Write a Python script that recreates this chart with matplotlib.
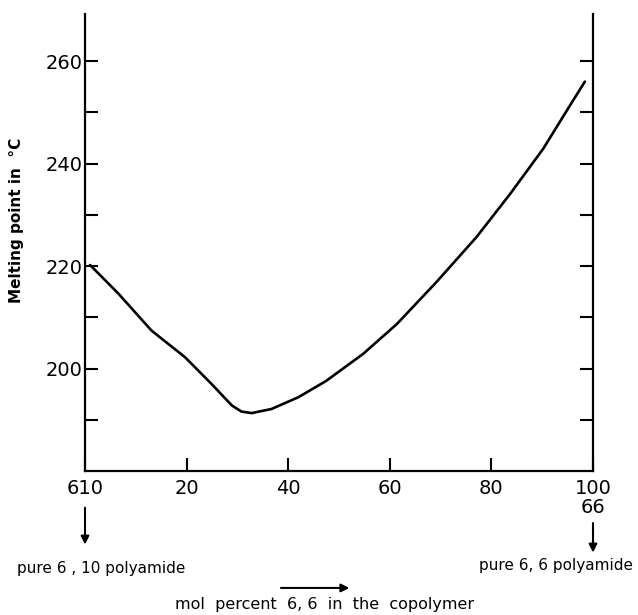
import numpy as np
import matplotlib
matplotlib.use('Agg')
from matplotlib import pyplot as plt

# melting point of 6,10 / 6,6 copolyamides
mol_pct = [1.0, 6.6, 13.1, 19.7, 24.9, 28.9, 30.8, 32.8, 36.7, 42.0, 47.5,
           54.8, 61.4, 69.2, 77.1, 83.7, 90.2, 95.5, 98.4]
melt_pt = [220.2, 214.6, 207.4, 202.2, 197.0, 192.8, 191.6, 191.3, 192.1, 194.4,
           197.6, 202.9, 208.7, 216.9, 225.7, 234.1, 242.9, 251.4, 256.0]

x_ticks = [0, 20, 40, 60, 80, 100]
x_labels = ['610', '20', '40', '60', '80', '100\n66']
y_major = [200, 220, 240, 260]
y_minor = [190, 210, 230, 250]

plt.rcParams['font.family'] = ['DejaVu Sans']

fig = plt.figure(figsize=(6.38, 6.15), dpi=100)
ax = fig.add_axes([85 / 638, 144 / 615, 508 / 638, 457 / 615])

ax.plot(mol_pct, melt_pt, color='black', lw=1.9, solid_capstyle='round',
        solid_joinstyle='round')

ax.set_xlim(0, 100)
ax.set_ylim(180, 269.2)

ax.spines['top'].set_visible(False)
for s in ['left', 'right', 'bottom']:
    ax.spines[s].set_linewidth(1.6)

ax.set_xticks(x_ticks)
ax.set_xticklabels(x_labels, fontsize=14, linespacing=0.95)
ax.set_yticks(y_major)
ax.set_yticks(y_minor, minor=True)
ax.set_yticklabels([str(v) for v in y_major], fontsize=14)

ax.tick_params(axis='both', which='both', direction='in', length=9.5,
               width=1.5, color='black')
ax.tick_params(axis='y', which='both', right=True, labelright=False, pad=2)
ax.tick_params(axis='x', pad=6)

ax.set_ylabel('Melting point in  \u00b0C', fontsize=11, fontweight='bold')
ax.yaxis.set_label_coords(-0.12, 0.549)

# arrows and notes under the axis
arrow = dict(arrowstyle='-|>', color='black', lw=1.5, mutation_scale=12)
ax.annotate('', xy=(0, 0.110), xytext=(0, 0.179),
            xycoords=('data', 'figure fraction'), arrowprops=arrow)
ax.annotate('', xy=(100, 0.097), xytext=(100, 0.154),
            xycoords=('data', 'figure fraction'), arrowprops=arrow)
fig.text(0.027, 0.076, 'pure 6 , 10 polyamide', fontsize=11, ha='left', va='center')
fig.text(0.992, 0.081, 'pure 6, 6 polyamide', fontsize=11, ha='right', va='center')
fig.text(0.508, 0.017, 'mol  percent  6, 6  in  the  copolymer', fontsize=11.5,
         ha='center', va='center')
fig.add_artist(matplotlib.patches.FancyArrowPatch(
    (0.436, 0.044), (0.552, 0.044), transform=fig.transFigure,
    arrowstyle='-|>', color='black', lw=1.5, mutation_scale=12))

fig.savefig('out.png', dpi=100)
